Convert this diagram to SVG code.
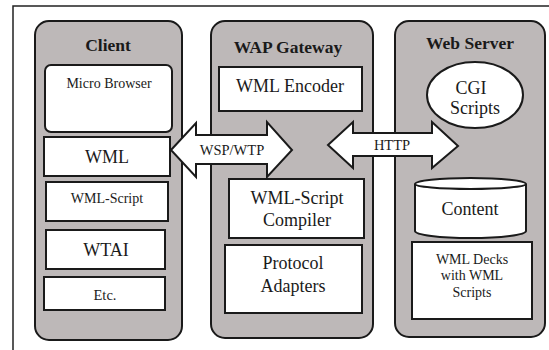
<svg xmlns="http://www.w3.org/2000/svg" width="549" height="350" viewBox="0 0 549 350">
  <style>
    .frame { fill: none; stroke: #222; stroke-width: 1.5; }
    .panel { fill: #bdb8b8; stroke: #1a1a1a; stroke-width: 2; }
    .box { fill: #fff; stroke: #1a1a1a; stroke-width: 2; }
    .arrow { fill: #fff; stroke: #1a1a1a; stroke-width: 2; stroke-linejoin: miter; }
    text { font-family: "Liberation Serif", "Times New Roman", serif; fill: #1a1a1a; text-anchor: middle; }
    .title { font-weight: bold; font-size: 17.5px; }
    .t12 { font-size: 14px; }
    .t14 { font-size: 14.5px; }
    .t18 { font-size: 18px; }
  </style>

  <!-- outer frame (top and left edges) -->
  <path class="frame" d="M13,350 V6 H549"/>

  <!-- Client -->
  <g id="client">
    <rect class="panel" x="35" y="21" width="147" height="319" rx="14"/>
    <text class="title" x="108" y="51">Client</text>
    <g id="micro-browser">
      <rect class="box" x="45" y="65" width="127" height="67" rx="6"/>
      <text class="t12" x="109" y="88">Micro Browser</text>
    </g>
    <g id="client-wml">
      <rect class="box" x="44" y="137" width="126" height="39"/>
      <text class="t18" x="107" y="163">WML</text>
    </g>
    <g id="client-wmlscript">
      <rect class="box" x="46" y="182" width="122" height="39"/>
      <text class="t12" x="107" y="203">WML-Script</text>
    </g>
    <g id="client-wtai">
      <rect class="box" x="46" y="230" width="119" height="39"/>
      <text class="t18" x="106" y="256">WTAI</text>
    </g>
    <g id="client-etc">
      <rect class="box" x="44" y="277" width="121" height="33"/>
      <text class="t14" x="105" y="300">Etc.</text>
    </g>
  </g>

  <!-- WAP Gateway -->
  <g id="gateway">
    <rect class="panel" x="211" y="21" width="162" height="317" rx="14"/>
    <text class="title" x="288" y="53">WAP Gateway</text>
    <g id="wml-encoder">
      <rect class="box" x="219" y="67" width="143" height="44"/>
      <text class="t18" x="290" y="92">WML Encoder</text>
    </g>
    <g id="wmlscript-compiler">
      <rect class="box" x="229" y="179" width="135" height="59"/>
      <text class="t18" x="297" y="204">WML-Script</text>
      <text class="t18" x="297" y="226">Compiler</text>
    </g>
    <g id="protocol-adapters">
      <rect class="box" x="225" y="245" width="137" height="68"/>
      <text class="t18" x="293" y="269">Protocol</text>
      <text class="t18" x="293" y="292">Adapters</text>
    </g>
  </g>

  <!-- Web Server -->
  <g id="webserver">
    <rect class="panel" x="395" y="21" width="150" height="316" rx="14"/>
    <text class="title" x="470" y="49">Web Server</text>
    <g id="cgi-scripts">
      <ellipse class="box" cx="475" cy="95" rx="48" ry="33"/>
      <text class="t18" x="471" y="94">CGI</text>
      <text class="t18" x="475" y="114">Scripts</text>
    </g>
    <g id="content">
      <path class="box" d="M415,184 A55.5,6 0 0 1 526,184 V231 A55.5,7 0 0 1 415,231 Z"/>
      <path class="box" fill="none" d="M415,184 A55.5,5 0 0 0 526,184"/>
      <text class="t18" x="470" y="215">Content</text>
    </g>
    <g id="wml-decks">
      <rect class="box" x="412" y="242" width="120" height="77"/>
      <text class="t12" x="472" y="264">WML Decks</text>
      <text class="t12" x="472" y="280">with WML</text>
      <text class="t12" x="472" y="297">Scripts</text>
    </g>
  </g>

  <!-- connectors -->
  <g id="connectors">
    <g id="wsp-wtp">
      <polygon class="arrow" points="171,150 196,123 196,135 267,135 267,122 292,150 267,177 267,164 196,164 196,177"/>
      <text class="t14" x="232" y="155">WSP/WTP</text>
    </g>
    <g id="http">
      <polygon class="arrow" points="328,145 353,122 353,133 432,133 432,122 458,146 432,168 432,156 353,156 353,168"/>
      <text class="t14" x="392" y="150">HTTP</text>
    </g>
  </g>
</svg>
